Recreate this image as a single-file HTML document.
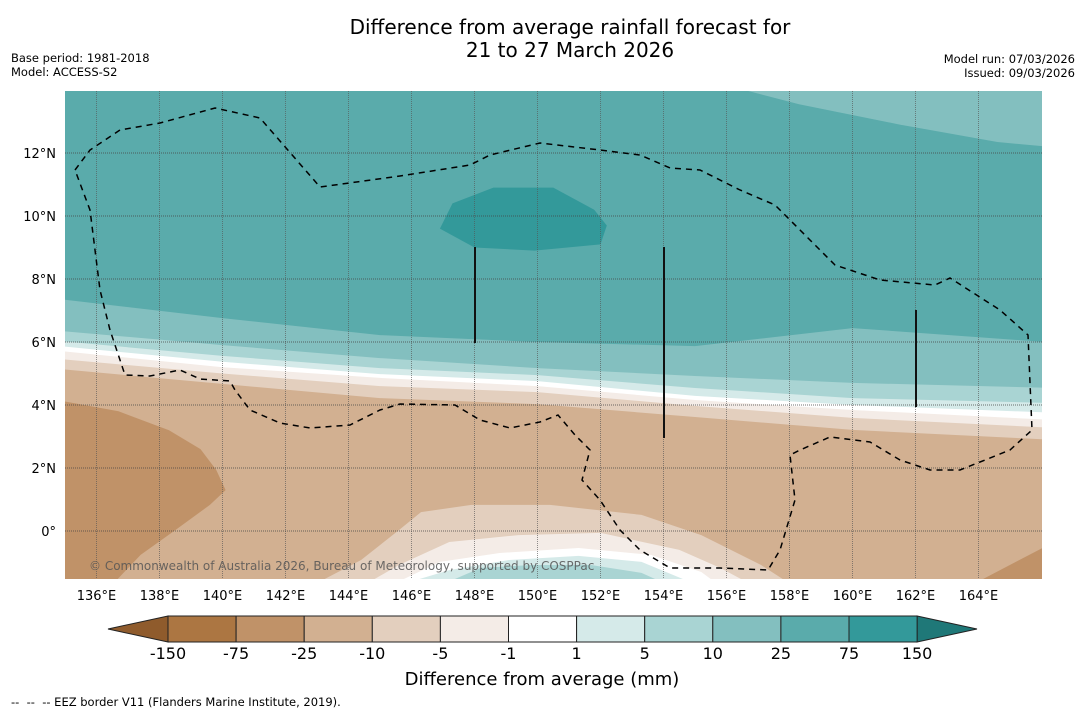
<!DOCTYPE html>
<html><head><meta charset="utf-8"><style>
body{margin:0;background:#fff;font-family:"DejaVu Sans","Liberation Sans",sans-serif;}
svg text{font-family:"DejaVu Sans","Liberation Sans",sans-serif;white-space:pre;}
</style></head><body>
<svg id="chart" width="1085" height="713" xmlns="http://www.w3.org/2000/svg">
<text x="570" y="34" font-size="20" text-anchor="middle">Difference from average rainfall forecast for</text>
<text x="570" y="57" font-size="20" text-anchor="middle">21 to 27 March 2026</text>
<text x="11" y="62" font-size="11.5">Base period: 1981-2018</text>
<text x="11" y="76" font-size="11.5">Model: ACCESS-S2</text>
<text x="1075" y="63" font-size="11.5" text-anchor="end">Model run: 07/03/2026</text>
<text x="1075" y="77" font-size="11.5" text-anchor="end">Issued: 09/03/2026</text>
<defs><clipPath id="mapclip"><rect x="65" y="91" width="977" height="488"/></clipPath></defs>
<g id="map" clip-path="url(#mapclip)"></g>
<g id="axes"></g>
<g id="cbar"></g>
<text x="542" y="685" font-size="18" text-anchor="middle">Difference from average (mm)</text>
<text x="11" y="706" font-size="11.5">--  --  -- EEZ border V11 (Flanders Marine Institute, 2019).</text>
</svg>
<script>
const levels=["-150","-75","-25","-10","-5","-1","1","5","10","25","75","150"];
const colors=["#ac7642","#c09268","#d2b091","#e3cfbe","#f4ece7","#ffffff","#d5eae9","#a9d4d3","#83bfbf","#5aabab","#33999a"];
const lonTicks=[136,138,140,142,144,146,148,150,152,154,156,158,160,162,164];
const latTicks=[0,2,4,6,8,10,12];
const bLons=[135,140,145,150,155,160,166];
// northern contour boundaries (lat at bLons); north of line is >= level
const bound25=[7.4,6.76,6.22,6.0,5.87,6.44,5.97];
const bound10=[6.38,5.9,5.49,5.17,4.92,4.7,4.54];
const bound5=[6.06,5.56,5.17,4.95,4.54,4.22,4.06];
const bound1=[5.9,5.37,4.98,4.76,4.29,4.0,3.75];
const boundM1=[5.75,5.2,4.86,4.6,4.16,3.84,3.52];
const boundM5=[5.49,5.0,4.6,4.41,3.97,3.59,3.27];
const boundM10=[5.17,4.67,4.22,4.03,3.62,3.21,2.89];
const topRight=[[155.8,14.2],[158.3,13.55],[161.5,12.9],[164.6,12.35],[166.2,12.2]];
const blob75=[[146.9,9.6],[147.3,10.4],[148.6,10.9],[150.5,10.9],[151.8,10.2],[152.2,9.7],[152.0,9.1],[149.9,8.9],[148.0,9.0]];
const darkLeft=[[134.8,4.15],[136.7,3.8],[138.3,3.2],[139.3,2.6],[139.8,1.94],[140.1,1.3],[139.6,0.83],[138.5,0.03],[137.4,-0.76],[136.6,-1.6],[134.8,-1.6]];
const darkRight=[[164.0,-1.6],[166.2,-0.45],[166.2,-1.6]];
const bumpM10=[[143.1,-1.6],[144.4,-0.92],[145.6,0.03],[146.3,0.6],[147.9,0.83],[150.4,0.83],[153.3,0.51],[155.2,-0.13],[157.1,-1.08],[157.9,-1.6]];
const bumpM5=[[144.7,-1.6],[145.6,-1.08],[147.2,-0.35],[149.4,-0.13],[152.0,-0.06],[154.5,-0.6],[155.8,-1.17],[156.6,-1.6]];
const bumpM1=[[145.6,-1.6],[146.9,-0.98],[148.8,-0.7],[151.3,-0.54],[153.6,-0.76],[155.2,-1.3],[155.6,-1.6]];
const bump1=[[146.0,-1.6],[147.2,-1.24],[149.1,-0.92],[151.3,-0.79],[153.3,-0.98],[154.8,-1.6]];
const bump5=[[147.2,-1.6],[148.2,-1.17],[149.8,-1.08],[151.7,-1.08],[153.3,-1.33],[153.9,-1.6]];

const X=lon=>65+(lon-135)*31.5;
const Y=lat=>531-lat*31.5;
const NS="http://www.w3.org/2000/svg";
const map=document.getElementById('map');
function mk(tag,attrs,parent){const e=document.createElementNS(NS,tag);for(const k in attrs)e.setAttribute(k,attrs[k]);parent.appendChild(e);return e;}
function ptsStr(pts){return pts.map(p=>X(p[0]).toFixed(1)+','+Y(p[1]).toFixed(1)).join(' ');}
let bg=mk('rect',{x:60,y:85,width:990,height:500,fill:colors[2]},map);


function northBand(b,col,name){
  const pts=bLons.map((l,i)=>[l,b[i]]);
  pts[0]=[134.5,b[0]];pts[6]=[166.5,b[6]];
  pts.push([166.5,15],[134.5,15]);
  const p=mk('polygon',{points:ptsStr(pts),fill:col},map);
  
  
}
northBand(boundM10,colors[3],'band-minus10-minus5');
northBand(boundM5,colors[4],'band-minus5-minus1');
northBand(boundM1,colors[5],'band-minus1-plus1');
northBand(bound1,colors[6],'band-1-5');
northBand(bound5,colors[7],'band-5-10');
northBand(bound10,colors[8],'band-10-25');
northBand(bound25,colors[9],'band-25-75');
function poly(pts,col,name){const p=mk('polygon',{points:ptsStr(pts),fill:col},map);
  
  }
poly(topRight.concat([[166.5,15],[155.8,15]]),colors[8],'region-top-right-10-25');
poly(blob75,colors[10],'region-over-75');
poly(darkLeft,colors[1],'region-left-minus75');
poly(darkRight,colors[1],'region-right-minus75');
poly(bumpM10,colors[3],'bump-minus10-minus5');
poly(bumpM5,colors[4],'bump-minus5-minus1');
poly(bumpM1,colors[5],'bump-minus1-plus1');
poly(bump1,colors[6],'bump-1-5');
poly(bump5,colors[7],'bump-5-10');
lonTicks.forEach(l=>{const g=mk('line',{x1:X(l),x2:X(l),y1:91,y2:579,stroke:'#555',"stroke-width":0.8,"stroke-dasharray":"1,1","stroke-opacity":0.8},map);
  
  });
latTicks.forEach(l=>{const g=mk('line',{x1:65,x2:1042,y1:Y(l),y2:Y(l),stroke:'#444',"stroke-width":0.8,"stroke-dasharray":"1,1"},map);
  
  });
const eez=mk('path',{d:"M75,170 L90,150 L120,130 L160,123 L215,108 L260,118 L320,187 L400,176 L470,165 L490,155 L540,143 L600,150 L640,155 L670,168 L700,170 L740,190 L775,205 L800,230 L835,265 L880,280 L935,285 L950,278 L1000,310 L1028,335 L1032,430 L1010,450 L960,470 L930,470 L900,460 L870,442 L830,437 L800,450 L790,455 L795,500 L780,550 L768,570 L720,568 L670,568 L640,550 L620,530 L600,500 L582,480 L590,450 L575,435 L558,415 L540,422 L510,428 L480,420 L455,405 L400,404 L380,410 L350,425 L310,428 L280,423 L250,410 L235,390 L230,381 L200,379 L180,370 L150,376 L125,375 L110,330 L100,290 L95,250 L90,210 Z",fill:"none",stroke:"#000","stroke-width":1.5,"stroke-dasharray":"6,5"},map);


[[475,247,343],[664,247,438],[916,310,407]].forEach((v,i)=>{const l=mk('line',{x1:v[0],x2:v[0],y1:v[1],y2:v[2],stroke:'#111',"stroke-width":2},map);
  
  });
const cp=mk('text',{x:89,y:570,"font-size":12,fill:'#555',"fill-opacity":0.85},map);
cp.textContent='© Commonwealth of Australia 2026, Bureau of Meteorology, supported by COSPPac';


const axes=document.getElementById('axes');
lonTicks.forEach(l=>{const t=mk('text',{x:X(l),y:600,"font-size":13,"text-anchor":"middle"},axes);t.textContent=l+'°E';
  
  });
latTicks.forEach(l=>{const t=mk('text',{x:56,y:Y(l)+5,"font-size":13,"text-anchor":"end"},axes);t.textContent=l===0?'0°':l+'°N';
  
  });
const cb=document.getElementById('cbar');
const cx0=168,cw=68.1,cy=616,ch=26;
const lt=mk('polygon',{points:`108,629 ${cx0},${cy} ${cx0},${cy+ch}`,fill:'#8f5b2c',stroke:'#222',"stroke-width":1},cb);


const rEnd=cx0+cw*11;
const rt=mk('polygon',{points:`${rEnd},${cy} 977,629 ${rEnd},${cy+ch}`,fill:'#1f7878',stroke:'#222',"stroke-width":1},cb);


colors.forEach((c,i)=>{const r=mk('rect',{x:cx0+i*cw,y:cy,width:cw,height:ch,fill:c,stroke:'#222',"stroke-width":1},cb);
  
  });
levels.forEach((s,i)=>{const t=mk('text',{x:cx0+i*cw,y:659,"font-size":16,"text-anchor":"middle"},cb);t.textContent=s;
  
  });
</script>
</body></html>
